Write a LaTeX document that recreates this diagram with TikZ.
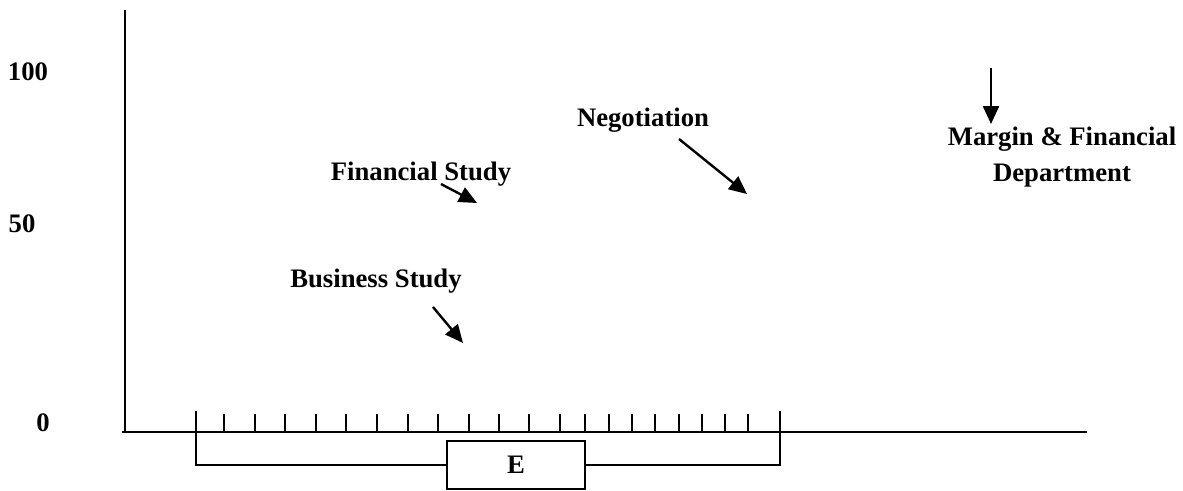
\documentclass[tikz,border=0pt]{standalone}
\usepackage{fontspec}
\setmainfont{Liberation Serif}
\usetikzlibrary{arrows.meta}
\begin{document}
\begin{tikzpicture}[x=1pt,y=-1pt,
  axisline/.style={line width=2pt},
  lbl/.style={font=\fontsize{26.7}{36}\selectfont\bfseries, inner sep=0pt},
  pointer/.style={line width=2.4pt, -{Triangle[length=18pt,width=16pt]}},
  ebox/.style={draw, line width=2pt, minimum width=138pt, minimum height=48pt, inner sep=0pt,
    font=\fontsize{26.7}{32}\selectfont\bfseries}]
\useasboundingbox (0,0) rectangle (1183,490);
% axes
\coordinate (ytop) at (125,10);
\coordinate (O) at (125,432);
\coordinate (xl) at (122,432);
\coordinate (xr) at (1087,432);
\draw[axisline] (ytop) -- (O);
\draw[axisline] (xl) -- (xr);
% axis labels
\node[lbl] (l100) at (28,72) {100};
\node[lbl] (l50) at (22,224) {50};
\node[lbl] (l0) at (43,423) {0};
% ticks
\foreach \x in {224,255,285,316,346,377,408,438,469,499,529,560,585,609,632,655,679,702,725,748}
  \draw[axisline] (\x,414) -- (\x,432);
% bracket and E box
\node[ebox] (E) at (516,465) {E};
\coordinate (bl) at (196,411);
\coordinate (br) at (780,411);
\draw[axisline] (bl) |- (E.west);
\draw[axisline] (br) |- (E.east);
% labels
\node[lbl] (neg) at (643,120) {Negotiation};
\node[lbl] (fin) at (421,174) {Financial Study};
\node[lbl] (bus) at (376,281) {Business Study};
\node[lbl, align=center] (mar) at (1062,157) {Margin \& Financial\\Department};
% arrows
\coordinate (negS) at (679,139);
\coordinate (negE) at (747,194);
\coordinate (finS) at (441,184);
\coordinate (finE) at (477,203);
\coordinate (busS) at (433,307);
\coordinate (busE) at (463,343);
\coordinate (marS) at (991,68);
\coordinate (marE) at (991,124);
\draw[pointer] (negS) -- (negE);
\draw[pointer] (finS) -- (finE);
\draw[pointer] (busS) -- (busE);
\draw[pointer] (marS) -- (marE);
\end{tikzpicture}
\end{document}
